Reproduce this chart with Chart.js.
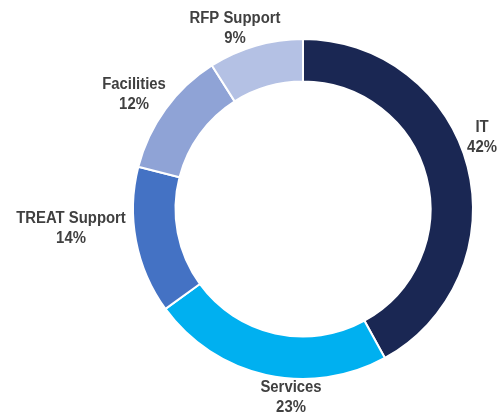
<!DOCTYPE html>
<html>
<head>
<meta charset="utf-8">
<script src="https://cdn.jsdelivr.net/npm/chart.js@4.4.1/dist/chart.umd.min.js"></script>
<style>
  html, body { margin: 0; padding: 0; background: #ffffff; }
  #wrap { width: 500px; height: 414px; position: relative; }
</style>
</head>
<body>
<div id="wrap"><canvas id="myChart" width="500" height="414"></canvas></div>
<script>
// data
const categorias = ["IT", "Services", "TREAT Support", "Facilities", "RFP Support"];
const porcentajes = [42, 23, 14, 12, 9];
const colores = ["#1a2753", "#00b0f0", "#4472c4", "#8fa3d6", "#b4c1e4"];

// where each label sits (centre of the two lines), in canvas px
const posEtiquetas = [[482, 128], [291, 388], [71, 219], [134, 85], [235, 19]];

const etiquetasPlugin = {
    id: 'etiquetas',
    afterDatasetsDraw(chart) {
        const ctx = chart.ctx;
        const data = chart.data.datasets[0].data;
        ctx.save();
        ctx.font = "bold 16px 'Liberation Sans', Arial, sans-serif";
        ctx.fillStyle = "#404040";
        ctx.textAlign = "center";
        ctx.textBaseline = "middle";
        for (let i = 0; i < data.length; i++) {
            let p = posEtiquetas[i];
            ctx.save();
            ctx.translate(p[0], p[1]);
            ctx.scale(0.93, 1); // texto algo estrecho como en el original
            ctx.fillText(chart.data.labels[i], 0, 0);
            ctx.fillText(data[i] + "%", 0, 20);
            ctx.restore();
        }
        ctx.restore();
    }
};

const ctx = document.getElementById('myChart').getContext('2d');
const myChart = new Chart(ctx, {
    type: 'doughnut',
    data: {
        labels: categorias,
        datasets: [{
            data: porcentajes,
            backgroundColor: colores,
            borderColor: '#ffffff',
            borderWidth: 2
        }]
    },
    options: {
        responsive: false,
        animation: false,
        cutout: '75%',
        layout: {
            padding: { left: 132, right: 26, top: 38, bottom: 34 }
        },
        plugins: {
            legend: { display: false },
            tooltip: { enabled: false }
        }
    },
    plugins: [etiquetasPlugin]
});
</script>
</body>
</html>
